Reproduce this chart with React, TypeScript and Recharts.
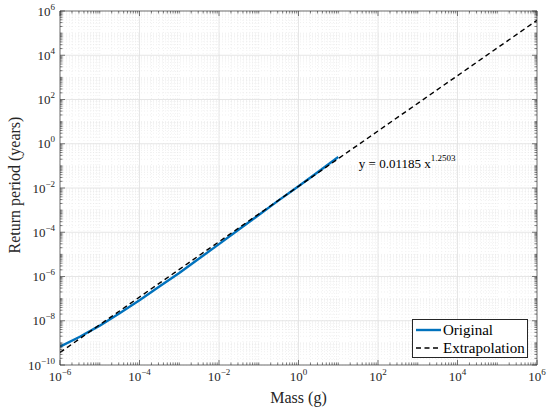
import React from 'react';
import { LineChart, Line, XAxis, YAxis, CartesianGrid, ReferenceDot, Label } from 'recharts';

// values (log-log plot)
const massOriginal = [1e-6, 3.16e-6, 1e-5, 3.16e-5, 1e-4, 3.16e-4, 1e-3, 3.16e-3, 1e-2, 3.16e-2, 0.1, 0.316, 1, 3.16, 10];
const periodOriginal = [6.8e-10, 1.9e-9, 6.0e-9, 2.2e-8, 8.5e-8, 3.5e-7, 1.45e-6, 6.5e-6, 2.9e-5, 1.32e-4, 6.0e-4, 2.75e-3, 1.2e-2, 5.4e-2, 0.25];

const massExtrap = [1e-6, 1e6];
const periodExtrap = [3.7e-10, 3.8e5];

const seriesNames = ['Original', 'Extrapolation'];

const xMajorTicks = [1e-6, 1e-4, 1e-2, 1, 1e2, 1e4, 1e6];
const xMajorLabels = ['\u22126', '\u22124', '\u22122', '0', '2', '4', '6'];
const yMajorTicks = [1e-10, 1e-8, 1e-6, 1e-4, 1e-2, 1, 1e2, 1e4, 1e6];
const yMajorLabels = ['\u221210', '\u22128', '\u22126', '\u22124', '\u22122', '0', '2', '4', '6'];

const fitText = 'y = 0.01185 x';
const fitExponent = '1.2503';
const fitAnchor = { mass: 33, period: 0.082 };

const FONT = '"Liberation Serif", "Times New Roman", serif';
const TEXT = '#262626';
const AXIS = '#262626';
const BLUE = '#0072BD';

// all log ticks (1..9 x 10^k) between two decades
const logTicks = (lo: number, hi: number) => {
  const out: number[] = [];
  for (let k = lo; k < hi; k++) {
    for (let m = 1; m < 10; m++) out.push(m * Math.pow(10, k));
  }
  out.push(Math.pow(10, hi));
  return out;
};

const same = (a: number, b: number) => Math.abs(Math.log10(a / b)) < 1e-9;
const majorIndex = (v: number, majors: number[]) => majors.findIndex((t) => same(v, t));

const xAll = logTicks(-6, 6);
const yAll = logTicks(-10, 6);
const xMinor = xAll.filter((v) => majorIndex(v, xMajorTicks) < 0);
const yMinor = yAll.filter((v) => majorIndex(v, yMajorTicks) < 0);

const originalData = massOriginal.map((m, i) => ({ mass: m, period: periodOriginal[i] }));
const extrapData = massExtrap.map((m, i) => ({ mass: m, period: periodExtrap[i] }));

const tickLen = (v: number, majors: number[]) => (majorIndex(v, majors) >= 0 ? 5 : 2.5);

const BottomTick = (props: any) => {
  const { x, y, payload } = props;
  const i = majorIndex(payload.value, xMajorTicks);
  return (
    <g>
      <line x1={x} x2={x} y1={y} y2={y - tickLen(payload.value, xMajorTicks)} stroke={AXIS} strokeWidth={0.6} />
      {i >= 0 && (
        <text x={x} y={y + 16} textAnchor="middle" fontSize={13} fill={TEXT} fontFamily={FONT}>
          10<tspan dy={-6} fontSize={9}>{xMajorLabels[i]}</tspan>
        </text>
      )}
    </g>
  );
};

const TopTick = (props: any) => {
  const { x, y, payload } = props;
  return <line x1={x} x2={x} y1={y} y2={y + tickLen(payload.value, xMajorTicks)} stroke={AXIS} strokeWidth={0.6} />;
};

const LeftTick = (props: any) => {
  const { x, y, payload } = props;
  const i = majorIndex(payload.value, yMajorTicks);
  return (
    <g>
      <line x1={x} x2={x + tickLen(payload.value, yMajorTicks)} y1={y} y2={y} stroke={AXIS} strokeWidth={0.6} />
      {i >= 0 && (
        <text x={x - 5} y={y + 4.5} textAnchor="end" fontSize={13} fill={TEXT} fontFamily={FONT}>
          10<tspan dy={-6} fontSize={9}>{yMajorLabels[i]}</tspan>
        </text>
      )}
    </g>
  );
};

const RightTick = (props: any) => {
  const { x, y, payload } = props;
  return <line x1={x} x2={x - tickLen(payload.value, yMajorTicks)} y1={y} y2={y} stroke={AXIS} strokeWidth={0.6} />;
};

const XTitle = (props: any) => {
  const { x, y, width } = props.viewBox;
  return (
    <text x={x + width / 2} y={y + 38} textAnchor="middle" fontSize={16} fill={TEXT} fontFamily={FONT}>
      Mass (g)
    </text>
  );
};

const YTitle = (props: any) => {
  const { x, y, height } = props.viewBox;
  const cx = x + 14;
  const cy = y + height / 2 - 3;
  return (
    <text x={cx} y={cy} transform={`rotate(-90 ${cx} ${cy})`} textAnchor="middle" dominantBaseline="central" fontSize={16} fill={TEXT} fontFamily={FONT}>
      Return period (years)
    </text>
  );
};

const FitLabel = (props: any) => (
  <text x={props.cx} y={props.cy} fontSize={13} fill="#000" fontFamily={FONT}>
    {fitText}
    <tspan dy={-7} fontSize={9}>{fitExponent}</tspan>
  </text>
);

const logAxis = { type: 'number' as const, scale: 'log' as const, allowDataOverflow: true, interval: 0 as const };

const App: React.FC = () => {
  return (
    <div style={{ position: 'absolute', left: 0, top: 0, width: 550, height: 409, background: '#fff' }}>
      <LineChart width={550} height={409} margin={{ top: 0, right: 0, bottom: 0, left: 0 }}>
        <XAxis xAxisId="xmin" dataKey="mass" {...logAxis} domain={[1e-6, 1e6]} ticks={xMinor} hide />
        <YAxis yAxisId="ymin" dataKey="period" {...logAxis} domain={[1e-10, 1e6]} ticks={yMinor} hide />
        <XAxis xAxisId="xmaj" dataKey="mass" {...logAxis} domain={[1e-6, 1e6]} ticks={xMajorTicks} hide />
        <YAxis yAxisId="ymaj" dataKey="period" {...logAxis} domain={[1e-10, 1e6]} ticks={yMajorTicks} hide />
        <CartesianGrid xAxisId="xmin" yAxisId="ymin" stroke="#e2e2e2" strokeDasharray="1 2" strokeWidth={0.5} />
        <CartesianGrid xAxisId="xmaj" yAxisId="ymaj" stroke="#e0e0e0" strokeWidth={0.8} />

        <XAxis
          xAxisId="xb"
          dataKey="mass"
          {...logAxis}
          domain={[1e-6, 1e6]}
          ticks={xAll}
          orientation="bottom"
          height={44}
          tickSize={0}
          tickMargin={0}
          tickLine={false}
          axisLine={{ stroke: AXIS, strokeWidth: 0.6 }}
          tick={<BottomTick />}
        >
          <Label content={<XTitle />} />
        </XAxis>
        <XAxis
          xAxisId="xt"
          dataKey="mass"
          {...logAxis}
          domain={[1e-6, 1e6]}
          ticks={xAll}
          orientation="top"
          height={11}
          tickSize={0}
          tickMargin={0}
          tickLine={false}
          axisLine={{ stroke: AXIS, strokeWidth: 0.6 }}
          tick={<TopTick />}
        />
        <YAxis
          yAxisId="yl"
          dataKey="period"
          {...logAxis}
          domain={[1e-10, 1e6]}
          ticks={yAll}
          orientation="left"
          width={60}
          tickSize={0}
          tickMargin={0}
          tickLine={false}
          axisLine={{ stroke: AXIS, strokeWidth: 0.6 }}
          tick={<LeftTick />}
        >
          <Label content={<YTitle />} />
        </YAxis>
        <YAxis
          yAxisId="yr"
          dataKey="period"
          {...logAxis}
          domain={[1e-10, 1e6]}
          ticks={yAll}
          orientation="right"
          width={13}
          tickSize={0}
          tickMargin={0}
          tickLine={false}
          axisLine={{ stroke: AXIS, strokeWidth: 0.6 }}
          tick={<RightTick />}
        />

        <Line
          xAxisId="xb"
          yAxisId="yl"
          data={originalData}
          dataKey="period"
          name={seriesNames[0]}
          type="linear"
          stroke={BLUE}
          strokeWidth={2.4}
          dot={false}
          isAnimationActive={false}
        />
        <Line
          xAxisId="xb"
          yAxisId="yl"
          data={extrapData}
          dataKey="period"
          name={seriesNames[1]}
          type="linear"
          stroke="#000"
          strokeWidth={1.4}
          strokeDasharray="5 3.5"
          dot={false}
          isAnimationActive={false}
        />
        <ReferenceDot xAxisId="xb" yAxisId="yl" x={fitAnchor.mass} y={fitAnchor.period} r={0} shape={<FitLabel />} />
      </LineChart>

      <div
        style={{
          position: 'absolute',
          left: 412,
          top: 319,
          width: 116,
          height: 39,
          boxSizing: 'border-box',
          border: '1px solid #262626',
          background: '#fff',
          fontFamily: FONT,
          fontSize: 15,
          color: '#000',
          paddingTop: 1,
        }}
      >
        {seriesNames.map((name, i) => (
          <div key={name} style={{ display: 'flex', alignItems: 'center', height: 18 }}>
            <svg width={29} height={10} style={{ flex: 'none' }}>
              {i === 0 ? (
                <line x1={3} x2={28} y1={5} y2={5} stroke={BLUE} strokeWidth={2.4} />
              ) : (
                <line x1={3} x2={28} y1={5} y2={5} stroke="#000" strokeWidth={1.4} strokeDasharray="5 3.5" />
              )}
            </svg>
            <span style={{ marginLeft: 1, lineHeight: '18px', whiteSpace: 'nowrap' }}>{name}</span>
          </div>
        ))}
      </div>
    </div>
  );
};

export default App;
